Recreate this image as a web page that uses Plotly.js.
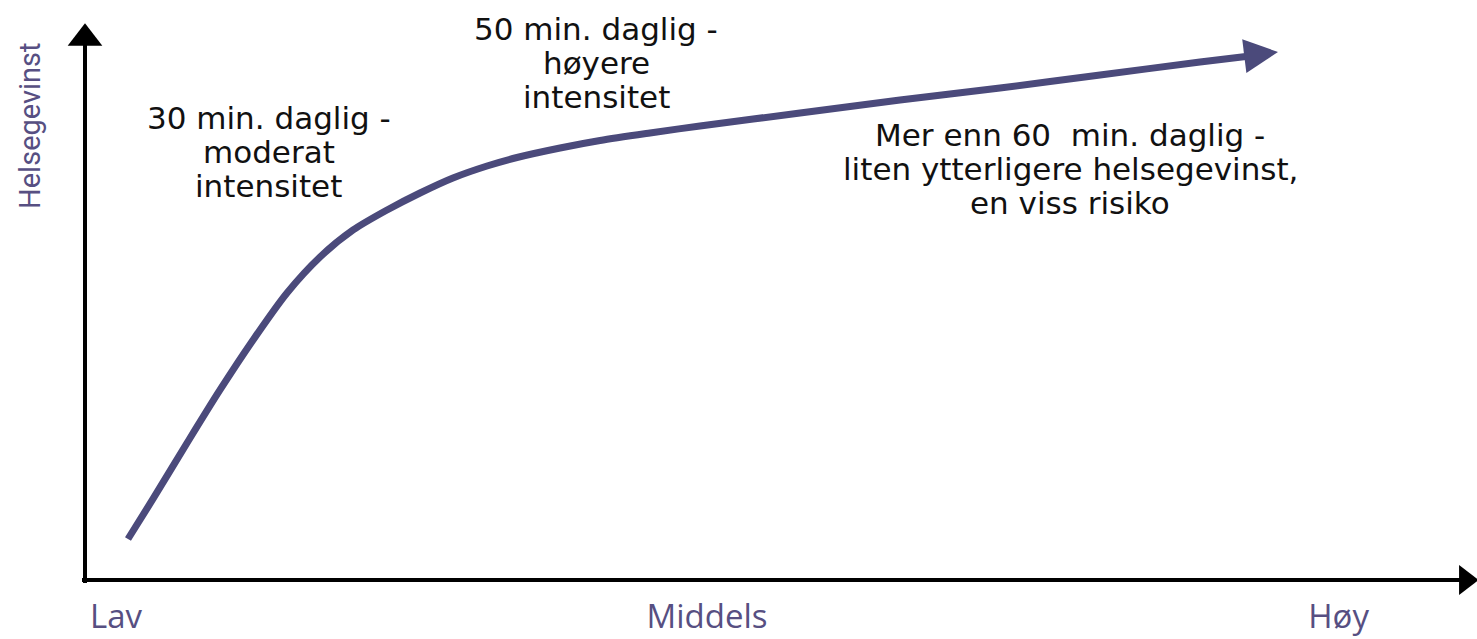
<!DOCTYPE html>
<html>
<head>
<meta charset="utf-8">
<script src="https://cdn.plot.ly/plotly-3.0.1.min.js"></script>
<style>html,body{margin:0;padding:0;background:#fff;}#chart{width:1477px;height:639px;}</style>
</head>
<body>
<div id="chart"></div>
<script>
// Activity level (x, 0-100) and health benefit (y, 0-100)
const activity = [3.13, 4.95, 7.43, 9.83, 12.24, 14.71, 17.12, 19.53, 22.00, 24.40, 26.80, 29.28, 31.46, 34.60, 37.51, 41.15, 44.79, 52.08, 59.36, 66.64, 73.93, 81.21, 84.85];
const benefit  = [7.62, 15.06, 25.46, 35.32, 44.61, 53.35, 60.04, 65.06, 68.77, 71.93, 74.72, 76.95, 78.53, 80.30, 81.69, 83.09, 84.39, 86.80, 89.22, 91.45, 93.87, 96.28, 97.40];
const curveTipX = [86.89];
const curveTipY = [98.14];

// Axis labels
const levelLabels = ['Lav', 'Middels', 'Høy'];
const levelPositions = [2.26, 45.3, 91.3];
const yTitle = 'Helsegevinst';

// Annotation texts (one list of lines per note)
const notes = [
  ['30 min. daglig -', 'moderat', 'intensitet'],
  ['50 min. daglig -', 'høyere', 'intensitet'],
  ['Mer enn 60  min. daglig -', 'liten ytterligere helsegevinst,', 'en viss risiko']
];
const noteX = [13.40, 37.22, 71.74];
const noteY = [79.55, 96.10, 76.39];

const curveColor = '#4b4a7b';
const labelColor = '#574f82';

const X_RANGE = [-0.2185, 100.58];
const Y_RANGE = [-0.5576, 100.74];

const traces = [
  {
    x: activity, y: benefit, mode: 'lines', type: 'scatter',
    line: {color: curveColor, width: 7, shape: 'spline', smoothing: 0.8},
    hoverinfo: 'skip', cliponaxis: false
  },
  {
    x: curveTipX, y: curveTipY, mode: 'markers', type: 'scatter',
    marker: {symbol: 'arrow-right', size: 34, color: curveColor, angle: -7, line: {width: 0}},
    hoverinfo: 'skip', cliponaxis: false
  },
  {
    x: [0], y: [100.7], mode: 'markers', type: 'scatter',
    marker: {symbol: 'triangle-up', size: 30, color: '#000', line: {width: 0}},
    hoverinfo: 'skip', cliponaxis: false
  },
  {
    x: [100.55], y: [0], mode: 'markers', type: 'scatter',
    marker: {symbol: 'triangle-right', size: 26, color: '#000', line: {width: 0}},
    hoverinfo: 'skip', cliponaxis: false
  }
];

const annotations = [];
notes.forEach((lines, i) => {
  lines.forEach((t, j) => {
    annotations.push({
      x: noteX[i], y: noteY[i], xref: 'x', yref: 'y', text: t, showarrow: false,
      yshift: (1 - j) * 34,
      font: {family: 'DejaVu Sans', size: 31, color: '#111'}, align: 'center'
    });
  });
});
annotations.push({
  x: -0.0376, y: 0.8404, xref: 'paper', yref: 'paper', xanchor: 'center', yanchor: 'middle',
  text: yTitle, showarrow: false, textangle: -90,
  font: {family: 'Roboto', size: 29, color: labelColor}
});

const layout = {
  width: 1477, height: 639,
  margin: {l: 82, r: 11, t: 38, b: 56},
  paper_bgcolor: '#fff', plot_bgcolor: '#fff',
  showlegend: false,
  xaxis: {
    range: X_RANGE, showgrid: false, showline: false,
    zeroline: true, zerolinecolor: '#000', zerolinewidth: 4,
    tickmode: 'array', tickvals: levelPositions, ticktext: levelLabels,
    ticks: '', ticklen: 0, ticklabelstandoff: 11,
    tickfont: {family: 'Open Sans', size: 33, color: labelColor}
  },
  yaxis: {
    range: Y_RANGE, showgrid: false, showline: false,
    zeroline: true, zerolinecolor: '#000', zerolinewidth: 4,
    showticklabels: false, ticks: ''
  },
  annotations: annotations
};

Plotly.newPlot('chart', traces, layout, {displayModeBar: false, staticPlot: true});
</script>
</body>
</html>
